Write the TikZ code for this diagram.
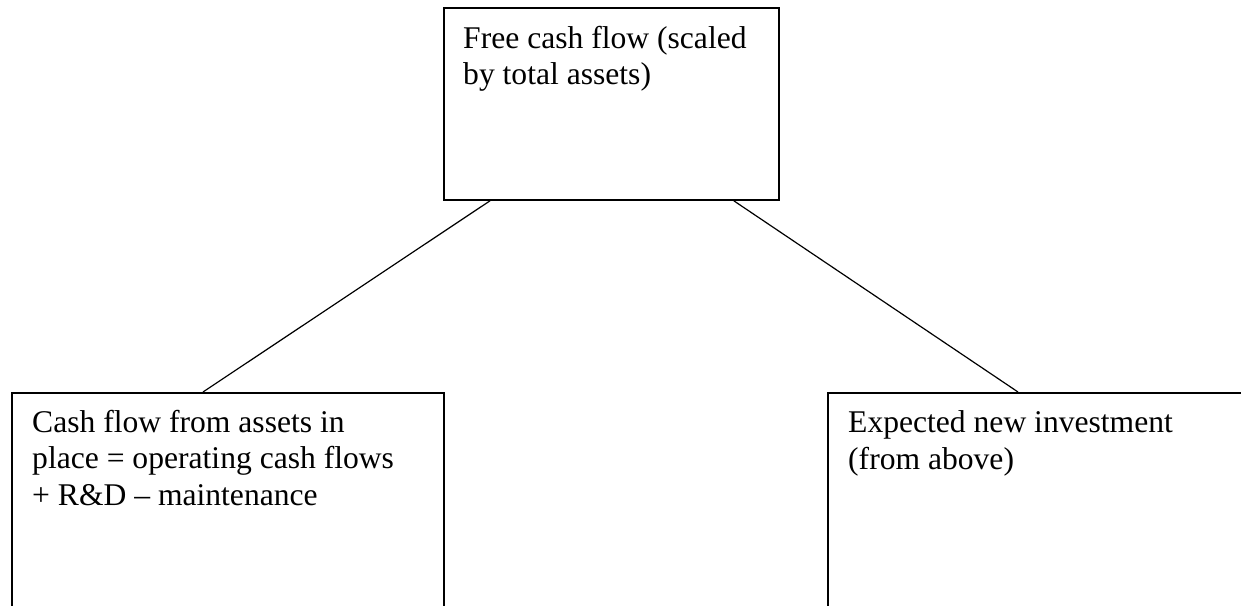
\documentclass[tikz,border=0pt]{standalone}
\usepackage{fontspec}
\setmainfont{Liberation Serif}
\begin{document}
\begin{tikzpicture}[x=1pt,y=-1pt,
  box/.style={draw, line width=1.8pt, inner sep=0pt, anchor=north west},
  lbl/.style={anchor=base west, inner sep=0pt, align=left, font=\fontsize{31.6}{36.5}\selectfont},
  conn/.style={line width=1.2pt}]
\useasboundingbox (0,0) rectangle (1241,605);
\clip (0,0) rectangle (1241,605);
\node[box, minimum width=335pt, minimum height=192pt] (top) at (443,7) {};
\node[box, minimum width=432pt, minimum height=250pt] (bl) at (11,392) {};
\node[box, minimum width=450pt, minimum height=250pt] (br) at (827,392) {};
\draw[conn] ([xshift=47pt]top.south west) -- ([xshift=192pt]bl.north west);
\draw[conn] ([xshift=-46pt]top.south east) -- ([xshift=191pt]br.north west);
\node[lbl] (ttop) at (463,84.5) {Free cash flow (scaled\\by total assets)};
\node[lbl] (tbl) at (32,505) {Cash flow from assets in\\place = operating cash flows\\+ R\&D -- maintenance};
\node[lbl] (tbr) at (848,469) {Expected new investment\\(from above)};
\end{tikzpicture}
\end{document}
